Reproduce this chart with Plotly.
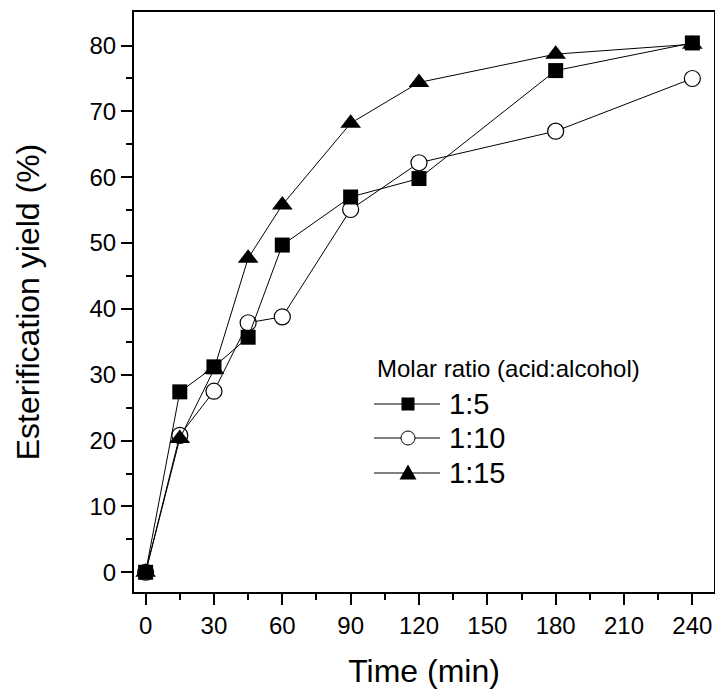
import plotly.graph_objects as go

time_min = [0, 15, 30, 45, 60, 90, 120, 180, 240]
yield_1_5 = [0, 27.4, 31.2, 35.7, 49.7, 57.0, 59.8, 76.2, 80.4]
yield_1_10 = [0, 20.8, 27.5, 37.9, 38.8, 55.1, 62.2, 67.0, 75.0]
yield_1_15 = [0, 20.3, 30.8, 47.7, 55.8, 68.2, 74.4, 78.7, 80.2]

series_names = ["1:5", "1:10", "1:15"]
legend_title = "Molar ratio (acid:alcohol)"

x_ticks = [0, 30, 60, 90, 120, 150, 180, 210, 240]
x_minor = [15, 45, 75, 105, 135, 165, 195, 225]
y_ticks = [0, 10, 20, 30, 40, 50, 60, 70, 80]
y_minor = [5, 15, 25, 35, 45, 55, 65, 75]

FONT = "Arial, Liberation Sans, sans-serif"

# plot-area geometry (pixels)
W, H = 715, 693
ML, MR, MT, MB = 134, 1, 12, 101
PW = W - ML - MR
PH = H - MT - MB


def px(x):
    return (x - ML) / PW


def py(y):
    return (H - MB - y) / PH


fig = go.Figure()
fig.add_trace(go.Scatter(
    x=time_min, y=yield_1_10, name=series_names[1], mode="lines+markers",
    line=dict(color="black", width=1),
    marker=dict(symbol="circle", size=16, color="white", line=dict(color="black", width=1.2)),
    showlegend=False))
fig.add_trace(go.Scatter(
    x=time_min, y=yield_1_15, name=series_names[2], mode="lines+markers",
    line=dict(color="black", width=1),
    marker=dict(symbol="triangle-up", size=18, color="black", line=dict(color="black", width=0)),
    showlegend=False))
fig.add_trace(go.Scatter(
    x=time_min, y=yield_1_5, name=series_names[0], mode="lines+markers",
    line=dict(color="black", width=1),
    marker=dict(symbol="square", size=15, color="black", line=dict(color="black", width=0)),
    showlegend=False))

axis_common = dict(
    showline=True, linecolor="black", linewidth=2, mirror=True,
    ticks="outside", ticklen=11, tickwidth=2, tickcolor="black",
    showgrid=False, zeroline=False,
    tickfont=dict(family=FONT, size=24, color="black"),
)

fig.update_xaxes(
    range=[-5.1, 249.5], tickvals=x_ticks, ticktext=[str(v) for v in x_ticks],
    minor=dict(tickvals=x_minor, ticks="outside", ticklen=6, tickwidth=2, tickcolor="black"),
    title=dict(text="Time (min)", font=dict(family=FONT, size=32, color="black"), standoff=22),
    **axis_common)
fig.update_yaxes(
    range=[-3.0, 85.1], tickvals=y_ticks, ticktext=[str(v) for v in y_ticks],
    minor=dict(tickvals=y_minor, ticks="outside", ticklen=6, tickwidth=2, tickcolor="black"),
    title=dict(text="Esterification yield (%)", font=dict(family=FONT, size=32, color="black"), standoff=40),
    **axis_common)

# ---- legend box drawn to match the original's long line samples ----
shapes = []
annotations = []
leg_line_x0, leg_line_x1, leg_mark_x, leg_text_x = 374, 440, 408, 447
row_y = [404, 438, 473]

annotations.append(dict(
    xref="paper", yref="paper", x=px(375), y=py(368), text=legend_title,
    showarrow=False, xanchor="left", yanchor="middle",
    font=dict(family=FONT, size=24, color="black")))

for name, yy in zip(series_names, row_y):
    shapes.append(dict(type="line", xref="paper", yref="paper",
                       x0=px(leg_line_x0), x1=px(leg_line_x1), y0=py(yy), y1=py(yy),
                       line=dict(color="black", width=1), layer="above"))
    annotations.append(dict(
        xref="paper", yref="paper", x=px(leg_text_x), y=py(yy), text=name,
        showarrow=False, xanchor="left", yanchor="middle",
        font=dict(family=FONT, size=29, color="black")))

# glyphs: square, circle, triangle
s = 6.5
shapes.append(dict(type="rect", xref="paper", yref="paper",
                   x0=px(leg_mark_x - s), x1=px(leg_mark_x + s),
                   y0=py(row_y[0] + s), y1=py(row_y[0] - s),
                   fillcolor="black", line=dict(color="black", width=0), layer="above"))
r = 7
shapes.append(dict(type="circle", xref="paper", yref="paper",
                   x0=px(leg_mark_x - r), x1=px(leg_mark_x + r),
                   y0=py(row_y[1] + r), y1=py(row_y[1] - r),
                   fillcolor="white", line=dict(color="black", width=1), layer="above"))
tx = [px(leg_mark_x - 8.5), px(leg_mark_x + 8.5), px(leg_mark_x)]
ty = [py(row_y[2] + 6.5), py(row_y[2] + 6.5), py(row_y[2] - 8.5)]
shapes.append(dict(type="path", xref="paper", yref="paper",
                   path=f"M {tx[0]} {ty[0]} L {tx[1]} {ty[1]} L {tx[2]} {ty[2]} Z",
                   fillcolor="black", line=dict(color="black", width=0), layer="above"))

fig.update_layout(
    width=W, height=H,
    margin=dict(l=ML, r=MR, t=MT, b=MB, autoexpand=False),
    paper_bgcolor="white", plot_bgcolor="white",
    showlegend=False,
    shapes=shapes,
    annotations=annotations,
)

fig.write_html("out.html", config={"displayModeBar": False},
               post_script="document.body.style.margin='0';")
